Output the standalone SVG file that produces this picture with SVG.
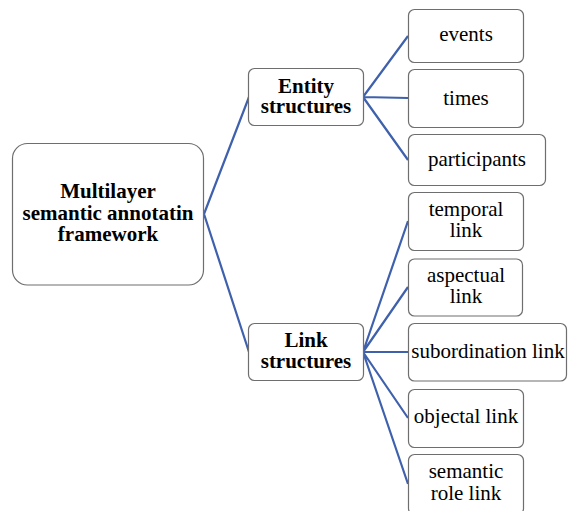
<svg xmlns="http://www.w3.org/2000/svg" width="574" height="511" viewBox="0 0 574 511">
<style>
.box{fill:#fff;stroke:#6e6e6e;stroke-width:1.2}
.c{stroke:#3f61ad;stroke-width:2.2;fill:none}
</style>
<rect width="574" height="511" fill="#fff"/>
<g id="connectors">
<path class="c" d="M204 214 L249 97 M204 214 L249 352"/>
<path class="c" d="M363 97 L408 36 M363 97 L408 98 M363 97 L408 160"/>
<path class="c" d="M363 352 L408 221 M363 352 L408 287 M363 352 L408 352 M363 352 L408 418 M363 352 L408 484"/>
</g>
<g id="root"><rect class="box" x="12.5" y="143.5" width="191" height="141.5" rx="15"/>
<text x="108" y="198" style="font-family:'Liberation Serif',serif;font-size:21px;font-weight:bold;text-anchor:middle">Multilayer</text><text x="108" y="220" style="font-family:'Liberation Serif',serif;font-size:21px;font-weight:bold;text-anchor:middle">semantic annotatin</text><text x="108" y="241" style="font-family:'Liberation Serif',serif;font-size:21px;font-weight:bold;text-anchor:middle">framework</text></g>
<g id="entity"><rect class="box" x="248.5" y="68.5" width="115" height="57" rx="6"/>
<text x="306" y="93" style="font-family:'Liberation Serif',serif;font-size:21px;font-weight:bold;text-anchor:middle">Entity</text><text x="306" y="113" style="font-family:'Liberation Serif',serif;font-size:21px;font-weight:bold;text-anchor:middle">structures</text></g>
<g id="link"><rect class="box" x="248.5" y="323.5" width="115" height="57" rx="6"/>
<text x="306" y="347" style="font-family:'Liberation Serif',serif;font-size:21px;font-weight:bold;text-anchor:middle">Link</text><text x="306" y="368" style="font-family:'Liberation Serif',serif;font-size:21px;font-weight:bold;text-anchor:middle">structures</text></g>
<g id="events"><rect class="box" x="408.5" y="9.5" width="115" height="53" rx="6"/><text x="466" y="41" style="font-family:'Liberation Serif',serif;font-size:21px;text-anchor:middle">events</text></g>
<g id="times"><rect class="box" x="408.5" y="69.5" width="115" height="58" rx="6"/><text x="466" y="105" style="font-family:'Liberation Serif',serif;font-size:21px;text-anchor:middle">times</text></g>
<g id="participants"><rect class="box" x="408.5" y="134.5" width="137" height="51" rx="6"/><text x="477" y="166" style="font-family:'Liberation Serif',serif;font-size:21px;text-anchor:middle">participants</text></g>
<g id="temporal"><rect class="box" x="408.5" y="192.5" width="115" height="58" rx="6"/><text x="466" y="216" style="font-family:'Liberation Serif',serif;font-size:21px;text-anchor:middle">temporal</text><text x="466" y="237" style="font-family:'Liberation Serif',serif;font-size:21px;text-anchor:middle">link</text></g>
<g id="aspectual"><rect class="box" x="408.5" y="259" width="114" height="57" rx="6"/><text x="466" y="282" style="font-family:'Liberation Serif',serif;font-size:21px;text-anchor:middle">aspectual</text><text x="466" y="303" style="font-family:'Liberation Serif',serif;font-size:21px;text-anchor:middle">link</text></g>
<g id="subordination"><rect class="box" x="408.5" y="323.5" width="158" height="57.5" rx="6"/><text x="488" y="358" style="font-family:'Liberation Serif',serif;font-size:21px;text-anchor:middle">subordination link</text></g>
<g id="objectal"><rect class="box" x="408.5" y="389.5" width="115" height="58" rx="6"/><text x="466" y="423" style="font-family:'Liberation Serif',serif;font-size:21px;text-anchor:middle">objectal link</text></g>
<g id="semantic"><rect class="box" x="408.5" y="454.5" width="115" height="60" rx="6"/><text x="466" y="478" style="font-family:'Liberation Serif',serif;font-size:21px;text-anchor:middle">semantic</text><text x="466" y="500" style="font-family:'Liberation Serif',serif;font-size:21px;text-anchor:middle">role link</text></g>
</svg>
